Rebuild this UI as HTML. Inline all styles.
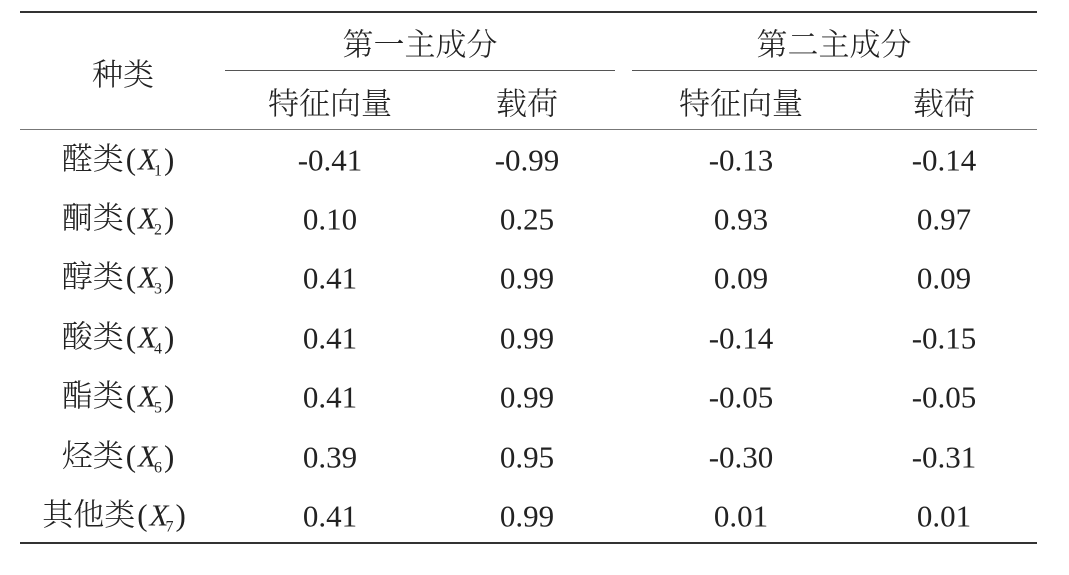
<!DOCTYPE html>
<html><head><meta charset="utf-8"><style>
body{margin:0;width:1069px;height:575px;background:#fff;position:relative;overflow:hidden;font-family:"Liberation Serif","Noto Serif CJK SC",serif;color:#222}
.t{position:absolute;transform:translate(-50%,-50%);white-space:nowrap;font-size:31px;line-height:1}
.c{font-family:"Noto Serif CJK SC","Liberation Serif",serif;font-size:31px;font-weight:300}
.l{position:absolute;background:#333}
i{font-style:italic;font-family:"Liberation Serif",serif;font-weight:400}
sub{font-size:16px;vertical-align:-6px;margin-left:-3px;font-family:"Liberation Serif",serif}
.p{font-family:"Liberation Serif",serif;font-weight:400;margin:0 2px}
</style></head><body>
<div class="l" style="left:20px;top:11px;width:1017px;height:2px"></div>
<div class="l" style="left:225px;top:70px;width:390px;height:1px;background:#555"></div>
<div class="l" style="left:632px;top:70px;width:405px;height:1px;background:#555"></div>
<div class="l" style="left:20px;top:129px;width:1017px;height:1px;background:#777"></div>
<div class="l" style="left:20px;top:542px;width:1017px;height:2px"></div>
<div class="t c" style="left:123px;top:72px">种类</div>
<div class="t c" style="left:420px;top:42px">第一主成分</div>
<div class="t c" style="left:834px;top:42px">第二主成分</div>
<div class="t c" style="left:330px;top:101px">特征向量</div>
<div class="t c" style="left:527px;top:101px">载荷</div>
<div class="t c" style="left:741px;top:101px">特征向量</div>
<div class="t c" style="left:944px;top:101px">载荷</div>
<div id="rows"></div>
<script>
var d=[["醛类",1,"-0.41","-0.99","-0.13","-0.14"],["酮类",2,"0.10","0.25","0.93","0.97"],["醇类",3,"0.41","0.99","0.09","0.09"],["酸类",4,"0.41","0.99","-0.14","-0.15"],["酯类",5,"0.41","0.99","-0.05","-0.05"],["烃类",6,"0.39","0.95","-0.30","-0.31"],["其他类",7,"0.41","0.99","0.01","0.01"]];
var ys=[160,219,278,338,397,457,516],xs=[330,527,741,944],h="";
d.forEach(function(r,i){h+='<div class="t c" style="left:'+(i==6?115:119)+'px;top:'+ys[i]+'px">'+r[0]+'<span class="p">(</span><i>X</i><sub>'+r[1]+'</sub><span class="p">)</span></div>';
for(var j=0;j<4;j++)h+='<div class="t" style="left:'+xs[j]+'px;top:'+ys[i]+'px">'+r[j+2]+'</div>';});
document.getElementById("rows").innerHTML=h;
</script>
</body></html>
